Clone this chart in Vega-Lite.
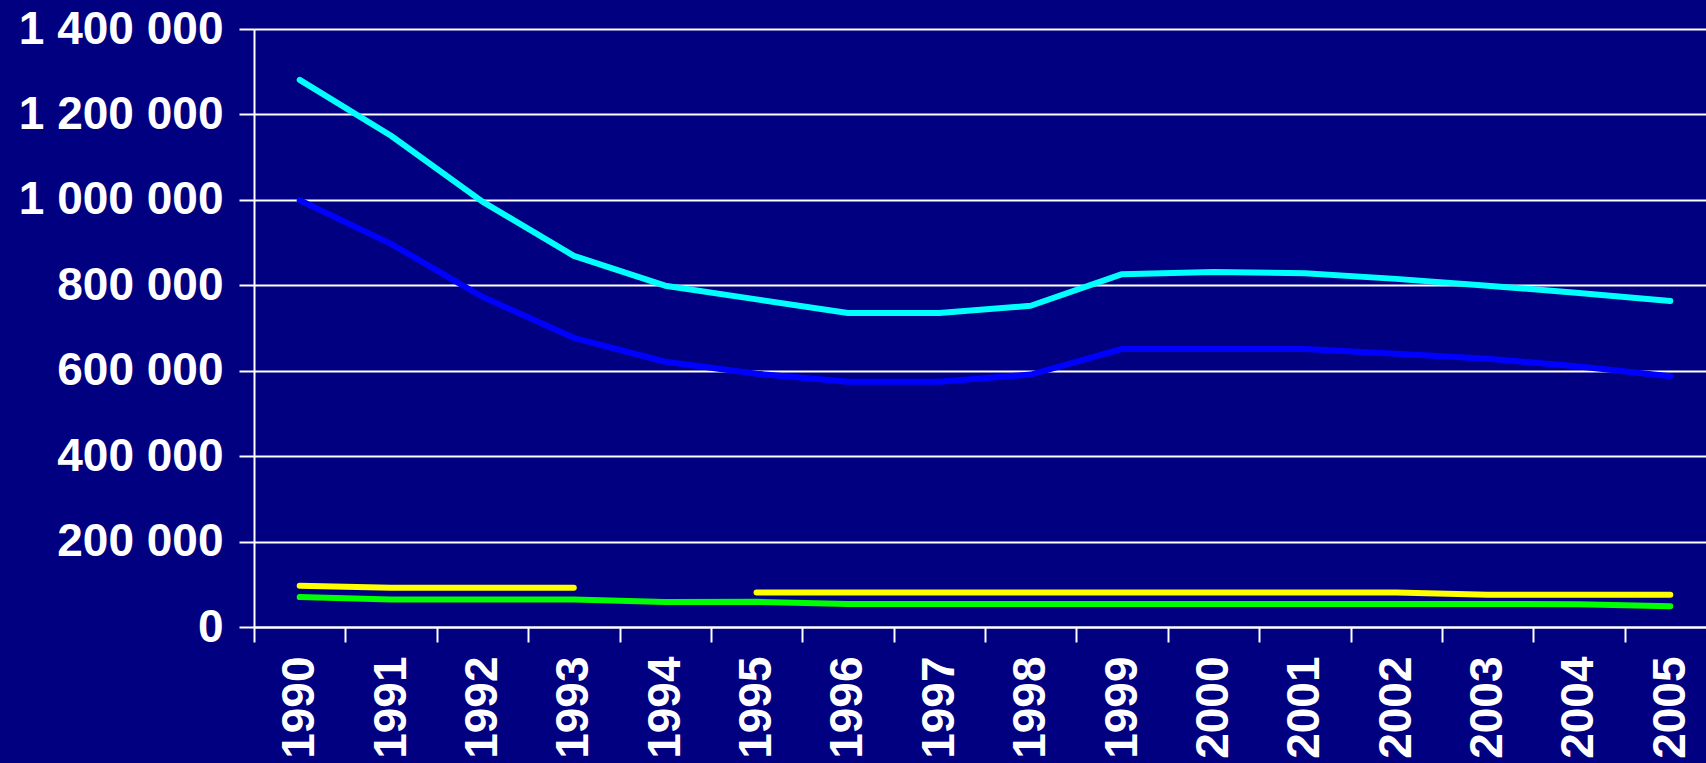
{
  "$schema": "https://vega.github.io/schema/vega-lite/v6.json",
  "width": 1452,
  "height": 598,
  "autosize": "none",
  "padding": {"left": 254, "top": 29, "right": 0, "bottom": 136},
  "background": "#000080",
  "config": {
    "view": {"stroke": null},
    "locale": {"number": {"decimal": ",", "thousands": " ", "grouping": [3], "currency": ["", ""]}},
    "font": "Liberation Sans"
  },
  "data": {
    "values": [
      {"year": "1990", "series": "A", "value": 1281000},
      {"year": "1991", "series": "A", "value": 1150000},
      {"year": "1992", "series": "A", "value": 996000},
      {"year": "1993", "series": "A", "value": 869000},
      {"year": "1994", "series": "A", "value": 799000},
      {"year": "1995", "series": "A", "value": 767000},
      {"year": "1996", "series": "A", "value": 735000},
      {"year": "1997", "series": "A", "value": 735000},
      {"year": "1998", "series": "A", "value": 752000},
      {"year": "1999", "series": "A", "value": 826000},
      {"year": "2000", "series": "A", "value": 831000},
      {"year": "2001", "series": "A", "value": 828000},
      {"year": "2002", "series": "A", "value": 815000},
      {"year": "2003", "series": "A", "value": 799000},
      {"year": "2004", "series": "A", "value": 782000},
      {"year": "2005", "series": "A", "value": 763000},
      {"year": "1990", "series": "B", "value": 999000},
      {"year": "1991", "series": "B", "value": 897000},
      {"year": "1992", "series": "B", "value": 773000},
      {"year": "1993", "series": "B", "value": 677000},
      {"year": "1994", "series": "B", "value": 621000},
      {"year": "1995", "series": "B", "value": 593000},
      {"year": "1996", "series": "B", "value": 574000},
      {"year": "1997", "series": "B", "value": 574000},
      {"year": "1998", "series": "B", "value": 591000},
      {"year": "1999", "series": "B", "value": 651000},
      {"year": "2000", "series": "B", "value": 651000},
      {"year": "2001", "series": "B", "value": 651000},
      {"year": "2002", "series": "B", "value": 640000},
      {"year": "2003", "series": "B", "value": 628000},
      {"year": "2004", "series": "B", "value": 610000},
      {"year": "2005", "series": "B", "value": 587000},
      {"year": "1990", "series": "C", "value": 96500},
      {"year": "1991", "series": "C", "value": 92000},
      {"year": "1992", "series": "C", "value": 92000},
      {"year": "1993", "series": "C", "value": 92000},
      {"year": "1994", "series": "C", "value": null},
      {"year": "1995", "series": "C", "value": 81000},
      {"year": "1996", "series": "C", "value": 81000},
      {"year": "1997", "series": "C", "value": 81000},
      {"year": "1998", "series": "C", "value": 81000},
      {"year": "1999", "series": "C", "value": 81000},
      {"year": "2000", "series": "C", "value": 81000},
      {"year": "2001", "series": "C", "value": 81000},
      {"year": "2002", "series": "C", "value": 81000},
      {"year": "2003", "series": "C", "value": 75500},
      {"year": "2004", "series": "C", "value": 75500},
      {"year": "2005", "series": "C", "value": 75500},
      {"year": "1990", "series": "D", "value": 70000},
      {"year": "1991", "series": "D", "value": 64500},
      {"year": "1992", "series": "D", "value": 64500},
      {"year": "1993", "series": "D", "value": 64500},
      {"year": "1994", "series": "D", "value": 58500},
      {"year": "1995", "series": "D", "value": 59000},
      {"year": "1996", "series": "D", "value": 54000},
      {"year": "1997", "series": "D", "value": 54000},
      {"year": "1998", "series": "D", "value": 54000},
      {"year": "1999", "series": "D", "value": 54000},
      {"year": "2000", "series": "D", "value": 54000},
      {"year": "2001", "series": "D", "value": 54000},
      {"year": "2002", "series": "D", "value": 54000},
      {"year": "2003", "series": "D", "value": 54000},
      {"year": "2004", "series": "D", "value": 53500},
      {"year": "2005", "series": "D", "value": 48500}
    ]
  },
  "mark": {"type": "line", "strokeWidth": 6, "strokeCap": "round", "strokeJoin": "round"},
  "encoding": {
    "x": {
      "field": "year",
      "type": "ordinal",
      "scale": {"type": "band", "range": [0, 1462], "paddingInner": 0, "paddingOuter": 0},
      "axis": {
        "title": null,
        "tickBand": "extent",
        "labelAngle": -90,
        "labelAlign": "right",
        "labelBaseline": "middle",
        "labelFont": "Liberation Sans",
        "labelFontSize": 46,
        "labelFontWeight": "bold",
        "labelColor": "#FFFFFF",
        "labelPadding": 14,
        "labelLimit": 0,
        "tickColor": "#FFFFFF",
        "tickSize": 15,
        "tickWidth": 2,
        "domainColor": "#FFFFFF",
        "domainWidth": 2,
        "grid": false
      }
    },
    "y": {
      "field": "value",
      "type": "quantitative",
      "scale": {"domain": [0, 1400000], "nice": false, "zero": true},
      "axis": {
        "title": null,
        "values": [0, 200000, 400000, 600000, 800000, 1000000, 1200000, 1400000],
        "format": ",d",
        "labelFont": "Liberation Sans",
        "labelFontSize": 46,
        "labelFontWeight": "bold",
        "labelColor": "#FFFFFF",
        "labelPadding": 16,
        "labelLimit": 0,
        "tickColor": "#FFFFFF",
        "tickSize": 15,
        "tickWidth": 2,
        "domainColor": "#FFFFFF",
        "domainWidth": 2,
        "grid": true,
        "gridColor": "#FFFFFF",
        "gridWidth": 2,
        "gridOpacity": 1
      }
    },
    "color": {
      "field": "series",
      "type": "nominal",
      "scale": {"domain": ["A", "B", "C", "D"], "range": ["#00FFFF", "#0000FF", "#FFFF00", "#00FF00"]},
      "legend": null
    }
  }
}
